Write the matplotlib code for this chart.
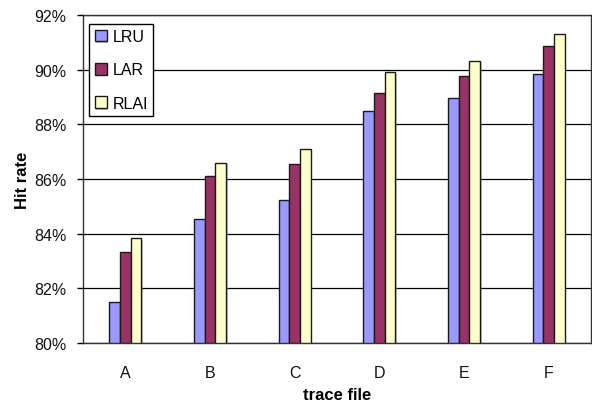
import matplotlib.pyplot as plt
import matplotlib.patheffects as pe
import numpy as np

plt.rcParams['font.family'] = ['Liberation Sans', 'DejaVu Sans']

trazas = ['A', 'B', 'C', 'D', 'E', 'F']
lru = [81.5, 84.53, 85.25, 88.47, 88.96, 89.85]
lar = [83.32, 86.11, 86.54, 89.14, 89.76, 90.85]
rlai = [83.83, 86.6, 87.1, 89.91, 90.3, 91.29]
series = ['LRU', 'LAR', 'RLAI']
colores = ['#9999FF', '#993366', '#FFFFCC']

fig = plt.figure(figsize=(5.92, 4.02), dpi=100)
ax = fig.add_axes([83/592, 1 - 344/402, 508/592, 328/402])

x = np.arange(len(trazas))
ancho = 0.126
sombra = [pe.SimplePatchShadow(offset=(1.2, -1.2), shadow_rgbFace='#888888', alpha=0.5), pe.Normal()]
for i, (valores, nombre, color) in enumerate(zip([lru, lar, rlai], series, colores)):
    barras = ax.bar(x + (i - 1) * ancho, np.array(valores) - 80, ancho, bottom=80,
                    color=color, edgecolor='#1a1a1a', linewidth=1.0, label=nombre, zorder=3)
    for b in barras:
        b.set_path_effects(sombra)

ax.set_xlim(-0.5, len(trazas) - 0.5)
ax.set_ylim(80, 92)
ax.set_yticks(np.arange(80, 93, 2))
ax.set_yticklabels([f'{v}%' for v in range(80, 93, 2)], fontsize=11.5, color='#111111')
ax.set_xticks(x)
ax.set_xticklabels(trazas, fontsize=11.5, color='#111111')
ax.tick_params(axis='x', length=0, pad=16)
ax.tick_params(axis='y', length=4, width=1, pad=8)
ax.yaxis.grid(True, color='black', linewidth=0.9, zorder=0)
ax.set_axisbelow(True)
for s in ax.spines.values():
    s.set_linewidth(1.0)
    s.set_color('#333333')

ax.set_xlabel('trace file', fontsize=12, fontweight='bold')
ax.xaxis.set_label_coords(0.5, -0.134)
ax.set_ylabel('Hit rate', fontsize=12, fontweight='bold')
ax.yaxis.set_label_coords(-0.104, 0.5)

leg = ax.legend(loc='upper left', bbox_to_anchor=(0.012, 0.974), fontsize=11.5,
                frameon=True, fancybox=False, edgecolor='black', framealpha=1,
                handlelength=0.75, handleheight=0.75, handletextpad=0.35,
                labelspacing=1.15, borderpad=0.35, borderaxespad=0)
leg.get_frame().set_linewidth(1.0)

fig.savefig('out.png', dpi=100)
